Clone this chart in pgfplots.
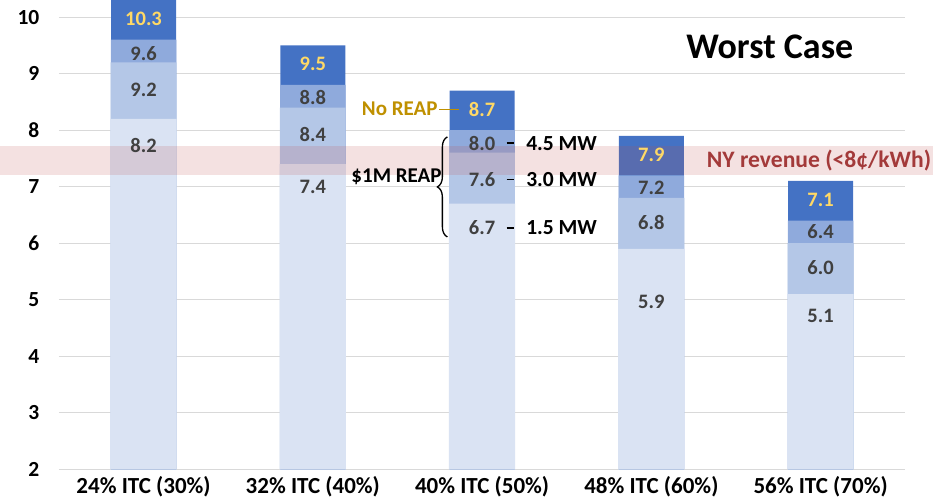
\documentclass[border=0pt]{standalone}
\usepackage{fontspec}
\setmainfont{Carlito}
\usepackage{pgfplots}
\pgfplotsset{compat=1.18}
\usetikzlibrary{decorations.pathreplacing}
\definecolor{c1}{HTML}{4472C4}
\definecolor{c2}{HTML}{8FAADC}
\definecolor{c3}{HTML}{B4C7E7}
\definecolor{c4}{HTML}{DAE3F3}
\definecolor{lbl}{HTML}{404040}
\definecolor{gold}{HTML}{FFD966}
\definecolor{dgold}{HTML}{BF9000}
\definecolor{nyred}{HTML}{A33A3A}
\definecolor{bandc}{RGB}{192,80,77}
\definecolor{gridc}{HTML}{D9D9D9}
\tikzset{
  lb/.style={font=\fontsize{20.5}{20.5}\selectfont\bfseries, text=lbl},
  tb/.style={font=\fontsize{20.5}{20.5}\selectfont\bfseries, text=gold},
}
\begin{document}
\begin{tikzpicture}
\begin{axis}[
  scale only axis, width=846pt, height=469pt,
  xmin=-0.5, xmax=4.5, ymin=2, ymax=10.3,
  ytick={2,3,4,5,6,7,8,9,10}, xtick={0,1,2,3,4},
  xticklabels={24\% ITC (30\%), 32\% ITC (40\%), 40\% ITC (50\%), 48\% ITC (60\%), 56\% ITC (70\%)},
  axis line style={draw=none},
  major tick length=0pt,
  ymajorgrids, grid style={gridc, line width=1pt},
  /pgf/number format/assume math mode=true,
  yticklabel style={font=\fontsize{21.5}{21.5}\selectfont\bfseries, xshift=-16pt},
  xticklabel style={font=\fontsize{23}{23}\selectfont\bfseries, yshift=-4pt},
  clip mode=individual,
]
\addplot[ybar, bar width=65pt, bar shift=0pt, fill=c1, draw=none] coordinates {(0,10.3) (1,9.5) (2,8.7) (3,7.9) (4,7.1)};
\addplot[ybar, bar width=65.4pt, bar shift=0pt, fill=c2, draw=none] coordinates {(0,9.6) (1,8.8) (2,8.0) (3,7.2) (4,6.4)};
\addplot[ybar, bar width=65.8pt, bar shift=0pt, fill=c3, draw=none] coordinates {(0,9.2) (1,8.4) (2,7.6) (3,6.8) (4,6.0)};
\addplot[ybar, bar width=66.2pt, bar shift=0pt, fill=c4, draw=none] coordinates {(0,8.2) (1,7.4) (2,6.7) (3,5.9) (4,5.1)};
% NY revenue band
\fill[bandc, fill opacity=0.17] (axis cs:-0.848,7.2) rectangle (axis cs:4.664,7.72);
% value labels
\node[tb] at (axis cs:0,9.96) {10.3};
\node[lb] at (axis cs:0,9.36) {9.6};
\node[lb] at (axis cs:0,8.71) {9.2};
\node[lb] at (axis cs:0,7.72) {8.2};
\node[tb] at (axis cs:1,9.17) {9.5};
\node[lb] at (axis cs:1,8.57) {8.8};
\node[lb] at (axis cs:1,7.93) {8.4};
\node[lb] at (axis cs:1,7.0) {7.4};
\node[tb] at (axis cs:2,8.37) {8.7};
\node[lb] at (axis cs:2,7.77) {8.0};
\node[lb] at (axis cs:2,7.13) {7.6};
\node[lb] at (axis cs:2,6.27) {6.7};
\node[tb] at (axis cs:3,7.57) {7.9};
\node[lb] at (axis cs:3,6.98) {7.2};
\node[lb] at (axis cs:3,6.37) {6.8};
\node[lb] at (axis cs:3,4.96) {5.9};
\node[tb] at (axis cs:4,6.77) {7.1};
\node[lb] at (axis cs:4,6.2) {6.4};
\node[lb] at (axis cs:4,5.57) {6.0};
\node[lb] at (axis cs:4,4.71) {5.1};
% annotations
\node[anchor=east, inner sep=0pt, font=\fontsize{21}{21}\selectfont\bfseries, text=dgold] at (axis cs:1.738,8.37) {No REAP};
\draw[dgold, line width=1pt] (axis cs:1.747,8.37) -- (axis cs:1.864,8.37);
\draw[black, line width=1.3pt] (axis cs:2.145,7.77) -- (axis cs:2.19,7.77);
\draw[black, line width=1.3pt] (axis cs:2.145,7.13) -- (axis cs:2.19,7.13);
\draw[black, line width=1.3pt] (axis cs:2.145,6.27) -- (axis cs:2.19,6.27);
\node[anchor=west, inner sep=0pt, font=\fontsize{21.5}{21.5}\selectfont\bfseries] at (axis cs:2.26,7.77) {4.5 MW};
\node[anchor=west, inner sep=0pt, font=\fontsize{21.5}{21.5}\selectfont\bfseries] at (axis cs:2.26,7.13) {3.0 MW};
\node[anchor=west, inner sep=0pt, font=\fontsize{21.5}{21.5}\selectfont\bfseries] at (axis cs:2.26,6.27) {1.5 MW};
\draw[decorate, decoration={brace, amplitude=10pt}, line width=1.3pt] (axis cs:1.795,6.11) -- (axis cs:1.795,7.88);
\node[anchor=east, inner sep=0pt, font=\fontsize{21}{21}\selectfont\bfseries] at (axis cs:1.762,7.17) {\$1M REAP};
\node[anchor=east, inner sep=0pt, font=\fontsize{23.6}{23.6}\selectfont\bfseries, text=nyred] at (axis cs:4.654,7.47) {NY revenue (<8¢/kWh)};
\node[font=\fontsize{36}{36}\selectfont\bfseries] at (axis cs:3.70,9.47) {Worst Case};
\end{axis}
\end{tikzpicture}
\end{document}
